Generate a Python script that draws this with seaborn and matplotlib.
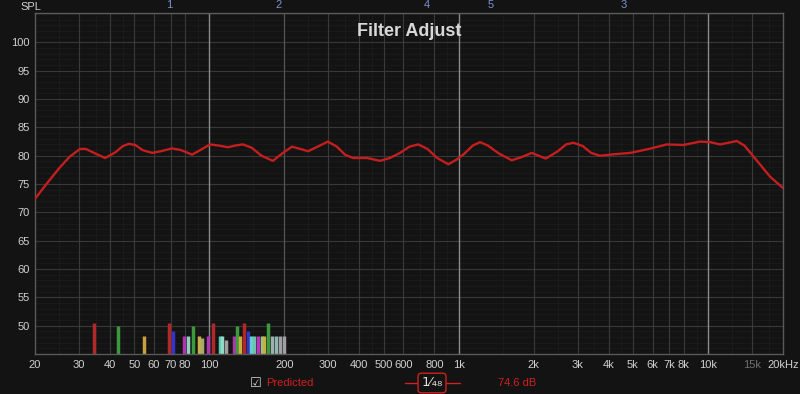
import matplotlib
matplotlib.use("Agg")
import matplotlib.pyplot as plt
import seaborn as sns
import pandas as pd

# ---- data ----
freqs = [20, 21, 22.5, 25, 27.5, 30.3, 32, 34.5, 38.2, 42, 45, 47.6, 50.5, 54, 59, 64,
         70.9, 77, 85.3, 92, 100.7, 109, 118.9, 127, 136.6, 148, 162, 180, 196, 214.7,
         232, 249, 272, 299, 325, 350, 377, 429.5, 484, 530, 582, 635, 689.6, 750, 820,
         909.6, 980, 1050, 1140, 1219, 1310, 1450, 1634, 1800, 1964, 2237, 2500, 2700,
         2886, 3150, 3400, 3692, 4300, 4875, 5800, 6839, 7965, 9300, 10200, 11190,
         12100, 13050, 14000, 15210, 17750, 20000]
spl = [72.4, 73.6, 75.3, 77.8, 79.8, 81.2, 81.2, 80.5, 79.6, 80.6, 81.7, 82.1, 81.9, 81.0,
       80.5, 80.8, 81.3, 81.0, 80.2, 81.0, 82.0, 81.8, 81.5, 81.8, 82.0, 81.4, 80.0, 79.1,
       80.4, 81.6, 81.2, 80.8, 81.6, 82.5, 81.6, 80.2, 79.6, 79.6, 79.1, 79.6, 80.5, 81.6,
       82.0, 81.2, 79.6, 78.5, 79.3, 80.3, 81.8, 82.4, 81.8, 80.4, 79.2, 79.8, 80.5, 79.5,
       80.8, 82.0, 82.3, 81.7, 80.5, 80.0, 80.3, 80.5, 81.2, 82.0, 81.9, 82.5, 82.4, 82.0,
       82.3, 82.6, 81.8, 79.9, 76.3, 74.3]

bar_freqs = [34.6, 42.9, 54.9, 68.9, 71.7, 79.4, 82.4, 85.8, 91.2, 93.3, 99.1, 103.8,
             110.4, 112.8, 116.8, 125.7, 128.9, 132.8, 138.3, 143.4, 146.6, 151.1,
             157.3, 162.3, 165.8, 172.6, 178.5, 185.2, 192.2, 199.4]
bar_levels = [50.5, 50.0, 48.2, 50.5, 49.0, 48.2, 48.2, 50.0, 48.2, 47.8, 48.2, 50.5,
              48.2, 48.2, 47.4, 48.2, 50.0, 48.2, 50.5, 49.0, 48.2, 48.2,
              48.2, 48.2, 48.2, 50.5, 48.2, 48.2, 48.2, 48.2]
bar_colors = ["#b02828", "#3c9a3c", "#c8a040", "#b02828", "#3434c8", "#b034b0", "#8fd0c0",
              "#3c9a3c", "#c8b040", "#a8a870", "#b034b0", "#b02828", "#60c8b0", "#90d8c8",
              "#a0a0a0", "#b034b0", "#3c9a3c", "#c8b040", "#b02828", "#3434c8", "#60d0d0",
              "#70c0b0", "#c030c0", "#90c890", "#c8b040", "#3c9a3c", "#a0b0b0", "#90b8b0",
              "#a0a0a8", "#a0a0a0"]

ytick_vals = [50, 55, 60, 65, 70, 75, 80, 85, 90, 95, 100]
xtick_vals = [20, 30, 40, 50, 60, 70, 80, 100, 200, 300, 400, 500, 600, 800, 1000,
              2000, 3000, 4000, 5000, 6000, 7000, 8000, 10000, 15000, 20000]
xtick_labels = ["20", "30", "40", "50", "60", "70", "80", "100", "200", "300", "400",
                "500", "600", "800", "1k", "2k", "3k", "4k", "5k", "6k", "7k", "8k",
                "10k", "15k", "20kHz"]
marker_labels = ["1", "2", "4", "5", "3"]
marker_freqs = [69.0, 190.0, 745.0, 1350.0, 4600.0]

sns.set_theme(style="dark")
plt.rcParams["font.family"] = ["Liberation Sans", "DejaVu Sans"]

BG = "#131313"
fig = plt.figure(figsize=(8, 3.94), dpi=100, facecolor=BG)
ax = fig.add_axes([35/800, 1-354/394, 748/800, 341/394])
ax.set_facecolor(BG)
ax.set_xscale("log")
ax.set_xlim(20, 20000)
ax.set_ylim(45, 105.2)

# minor grid
for v in range(46, 106):
    ax.axhline(v, color="#1b1b1b", lw=0.6, zorder=0)
minor_x = [25, 35, 45, 90, 150, 250, 350, 450, 700, 900, 1500, 2500, 3500, 4500, 9000, 12500, 17500]
for f in minor_x:
    ax.axvline(f, color="#1c1c1c", lw=0.6, zorder=0)
for v in ytick_vals:
    ax.axhline(v, color="#383838", lw=0.8, zorder=0.5)
for f in xtick_vals:
    if f in (100, 1000, 10000):
        c, w = "#8a8a8a", 1.0
    elif f == 200:
        c, w = "#555555", 0.9
    elif f in (20, 20000):
        continue
    else:
        c, w = "#3a3a3a", 0.8
    ax.axvline(f, color=c, lw=w, zorder=0.5)

for s in ax.spines.values():
    s.set_color("#5a5a5a")
    s.set_linewidth(1.0)

# filter bars
ax.vlines(bar_freqs, 45, bar_levels, colors=bar_colors, lw=2.5, zorder=2)

# response curve
df = pd.DataFrame({"freq": freqs, "spl": spl})
sns.lineplot(data=df, x="freq", y="spl", ax=ax, color="#c41e1e", lw=1.7, zorder=3)

ax.set_xlabel("")
ax.set_ylabel("")
ax.set_yticks(ytick_vals)
ax.set_yticklabels([str(v) for v in ytick_vals])
ax.set_xticks(xtick_vals)
ax.set_xticklabels(xtick_labels)
ax.xaxis.set_minor_locator(matplotlib.ticker.NullLocator())
ax.tick_params(axis="both", length=0, labelsize=8, colors="#d0d0d0", pad=4)
for lbl in ax.get_xticklabels():
    if lbl.get_text() == "15k":
        lbl.set_color("#707070")

# header texts
fig.text(20/800, 1-7/394, "SPL", color="#d0d0d0", fontsize=8, ha="left", va="center")
ax.text(0.5, 0.97, "Filter Adjust", transform=ax.transAxes, ha="center", va="top",
        color="#d8d8d8", fontsize=13, fontweight="bold")
for lab, f in zip(marker_labels, marker_freqs):
    ax.text(f, 1.01, lab, transform=ax.get_xaxis_transform(), ha="center", va="bottom",
            color="#7f8fd0", fontsize=8)

# bottom legend
yl = 1 - 383/394
fig.text(256/800, yl, "\u2611", color="#d0d0d0", fontsize=9.5, ha="center", va="center",
         family=["DejaVu Sans"])
fig.text(266/800, yl, "Predicted", color="#d02020", fontsize=8, ha="left", va="center")
fig.add_artist(plt.Line2D([405/800, 460/800], [yl, yl], color="#d02020", lw=1.0))
fig.text(432/800, yl, "1\u2044\u2084\u2088", color="#e0e0e0", fontsize=9.5, ha="center", va="center",
         family=["DejaVu Sans"],
         bbox=dict(boxstyle="round,pad=0.25", fc=BG, ec="#d02020", lw=1.0))
fig.text(498/800, yl, "74.6 dB", color="#d02020", fontsize=8, ha="left", va="center")

fig.savefig("out.png", dpi=100, facecolor=BG)
